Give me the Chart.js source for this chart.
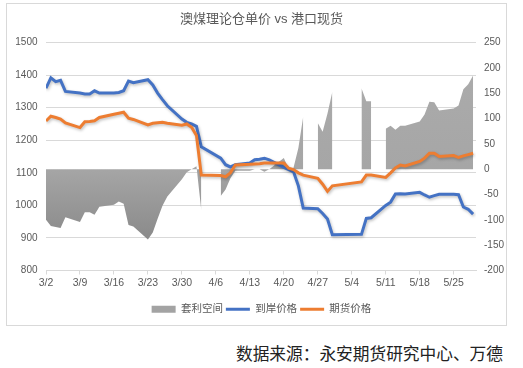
<!DOCTYPE html>
<html>
<head>
<meta charset="utf-8">
<script src="https://cdn.jsdelivr.net/npm/chart.js@4.4.1/dist/chart.umd.min.js"></script>
<style>
  html, body { margin: 0; padding: 0; background: #fff; }
  #wrap { position: relative; width: 523px; height: 368px; overflow: hidden; }
  #frame { position: absolute; left: 6px; top: 3px; width: 499px; height: 321px; border: 1px solid #d9d9d9; pointer-events: none; }
  #chart { position: absolute; left: 0; top: 0; }
  #source { position: absolute; right: 20px; top: 342px; font-size: 16.7px; font-family: "Noto Sans CJK SC", sans-serif; color: #222; line-height: 22px; white-space: nowrap; }
</style>
</head>
<body>
<div id="wrap">
  <canvas id="chart" width="523" height="330"></canvas>
  <div id="frame"></div>
  <div id="source">数据来源：永安期货研究中心、万德</div>
</div>
<script>
// Fechas (2020), null = día sin dato
const dates = [
  '3/2','3/3','3/4','3/5','3/6',
  '3/9','3/10','3/11','3/12','3/13',
  '3/16','3/17','3/18','3/19','3/20',
  '3/23','3/24','3/25','3/26','3/27',
  '3/30','3/31','4/1','4/2','4/3',
  '4/6',
  '4/7','4/8','4/9','4/10',
  '4/13','4/14','4/15','4/16','4/17',
  '4/20','4/21','4/22','4/23','4/24',
  '4/26',
  '4/27','4/28','4/29','4/30',
  '5/4',
  '5/6','5/7','5/8',
  '5/9',
  '5/11','5/12','5/13','5/14','5/15',
  '5/18','5/19','5/20','5/21','5/22',
  '5/25','5/26','5/27','5/28','5/29'
];

// 到岸价格
const arrivalPrice = [
  1360, 1392, 1380, 1384, 1350,
  1345, 1342, 1342, 1352, 1345,
  1345, 1347, 1352, 1382, 1377,
  1386, 1370, 1345, 1325, 1306,
  1265, 1255, 1250, 1243, 1180,
  null,
  1145, 1125, 1118, 1125,
  1130, 1140, 1142, 1145, 1140,
  1117, 1110, 1103, 1060, 992,
  null,
  990, 975, 958, 910,
  null,
  911, 960, 962,
  null,
  1000, 1010, 1035, 1036, 1035,
  1040, 1032, 1025, 1030, 1034,
  1034, 1033, 995, 988, 973
];

// 期货价格
const futuresPrice = [
  1259, 1274, 1270, 1265, 1253,
  1239, 1257, 1258, 1260, 1270,
  1280, 1283, 1286, 1268, 1264,
  1247, 1252, 1254, 1255, 1252,
  1246, 1250, 1240, 1215, 1093,
  null,
  1092, 1088, 1100, 1124,
  1126, 1127, 1128, 1130, 1130,
  1130, 1114, 1110, 1100, 1093,
  null,
  1083, 1065, 1043, 1060,
  null,
  1072, 1093, 1093,
  null,
  1086, 1100, 1115, 1124, 1121,
  1135, 1145, 1160, 1160, 1150,
  1153, 1147, 1152, 1156, 1160
];

// 套利空间 (eje derecho)
const arbSpace = [
  -100, -112, -114, -116, -95,
  -104, -85, -85, -90, -74,
  -70, -64, -68, -110, -113,
  -139, -125, -98, -72, -54,
  -20, -6, 0, 6, -81,
  null,
  -53, -40, -18, -3,
  -3, 0, 0, -5, 0,
  22, 1, 3, 42, 104,
  null,
  91, 74, 110, 153,
  null,
  160, 134, 134,
  null,
  80, 86, 78, 86, 86,
  94, 108, 133, 132, 116,
  120, 126, 158, 168, 185
];

const xTickLabels = ['3/2','3/9','3/16','3/23','3/30','4/6','4/13','4/20','4/27','5/4','5/11','5/18','5/25'];

const fontFamily = '"Liberation Sans", "Noto Sans CJK SC", sans-serif';
const textColor = '#595959';
const gridColor = '#d9d9d9';

function dayOffset(md) {
  const [m, d] = md.split('/').map(Number);
  return Math.round((Date.UTC(2020, m - 1, d) - Date.UTC(2020, 2, 2)) / 86400000);
}

function toPoints(values) {
  return dates.map((d, i) => ({ x: dayOffset(d), y: values[i] }));
}

// Sombra suave como en Excel
const shadowPlugin = {
  id: 'softShadow',
  beforeDatasetDraw(chart) {
    const ctx = chart.ctx;
    ctx.save();
    ctx.shadowColor = 'rgba(0, 0, 0, 0.25)';
    ctx.shadowBlur = 3;
    ctx.shadowOffsetX = 1;
    ctx.shadowOffsetY = 1.5;
  },
  afterDatasetDraw(chart) {
    chart.ctx.restore();
  }
};

function areaFill(context) {
  const chart = context.chart;
  const area = chart.chartArea;
  if (!area) return '#a0a0a0';
  const g = chart.ctx.createLinearGradient(0, area.top, 0, area.bottom);
  g.addColorStop(0, '#acacac');
  g.addColorStop(0.55, '#a6a6a6');
  g.addColorStop(1, '#7e7e7e');
  return g;
}

const ctx = document.getElementById('chart').getContext('2d');
const chart = new Chart(ctx, {
  type: 'line',
  data: {
    datasets: [{
      label: '套利空间',
      data: toPoints(arbSpace),
      yAxisID: 'y2',
      fill: 'origin',
      backgroundColor: areaFill,
      borderWidth: 0,
      pointRadius: 0,
      spanGaps: false,
      order: 3
    }, {
      label: '到岸价格',
      data: toPoints(arrivalPrice),
      yAxisID: 'y',
      borderColor: '#4472C4',
      borderWidth: 3,
      pointRadius: 0,
      spanGaps: true,
      fill: false,
      order: 2
    }, {
      label: '期货价格',
      data: toPoints(futuresPrice),
      yAxisID: 'y',
      borderColor: '#ED7D31',
      borderWidth: 3,
      pointRadius: 0,
      spanGaps: true,
      fill: false,
      order: 1
    }]
  },
  options: {
    responsive: false,
    animation: false,
    layout: { padding: { left: 0, right: 0, top: 0, bottom: 5.5 } },
    plugins: {
      title: {
        display: true,
        text: '澳煤理论仓单价 vs 港口现货',
        color: textColor,
        font: { family: fontFamily, size: 13, weight: 'normal' },
        padding: { top: 12, bottom: 15 }
      },
      legend: {
        display: true,
        position: 'bottom',
        labels: {
          color: textColor,
          font: { family: fontFamily, size: 10.5 },
          usePointStyle: true,
          pointStyleWidth: 24,
          boxWidth: 24,
          boxHeight: 7,
          padding: 3,
          generateLabels: (chart) => chart.data.datasets.map((ds, i) => ({
            text: ds.label,
            fillStyle: i === 0 ? '#a3a3a3' : ds.borderColor,
            strokeStyle: i === 0 ? '#a3a3a3' : ds.borderColor,
            lineWidth: i === 0 ? 0 : 3,
            pointStyle: i === 0 ? 'rect' : 'line',
            fontColor: textColor,
            hidden: false,
            datasetIndex: i
          }))
        }
      },
      tooltip: { enabled: false }
    },
    scales: {
      x: {
        type: 'linear',
        min: 0,
        max: 88.6,
        grid: {
          display: true,
          drawOnChartArea: false,
          drawTicks: true,
          tickLength: 4,
          color: gridColor
        },
        border: { display: true, color: gridColor },
        ticks: {
          stepSize: 7,
          includeBounds: false,
          autoSkip: false,
          maxRotation: 0,
          padding: 2,
          color: textColor,
          font: { family: fontFamily, size: 10.5 },
          callback: (value) => xTickLabels[value / 7] ?? ''
        },
        afterFit: (scale) => { scale.height = 30.5; }
      },
      y: {
        position: 'left',
        min: 800,
        max: 1500,
        grid: { color: gridColor, drawTicks: false },
        border: { display: false },
        ticks: {
          stepSize: 100,
          padding: 8.5,
          color: textColor,
          font: { family: fontFamily, size: 10 },
          callback: (value) => String(value)
        },
        afterFit: (scale) => { scale.width = 46; }
      },
      y2: {
        position: 'right',
        min: -200,
        max: 250,
        grid: { drawOnChartArea: false, drawTicks: false },
        border: { display: false },
        ticks: {
          stepSize: 50,
          padding: 8,
          color: textColor,
          font: { family: fontFamily, size: 10 },
          callback: (value) => String(value)
        },
        afterFit: (scale) => { scale.width = 47; }
      }
    }
  },
  plugins: [shadowPlugin]
});
</script>
</body>
</html>
